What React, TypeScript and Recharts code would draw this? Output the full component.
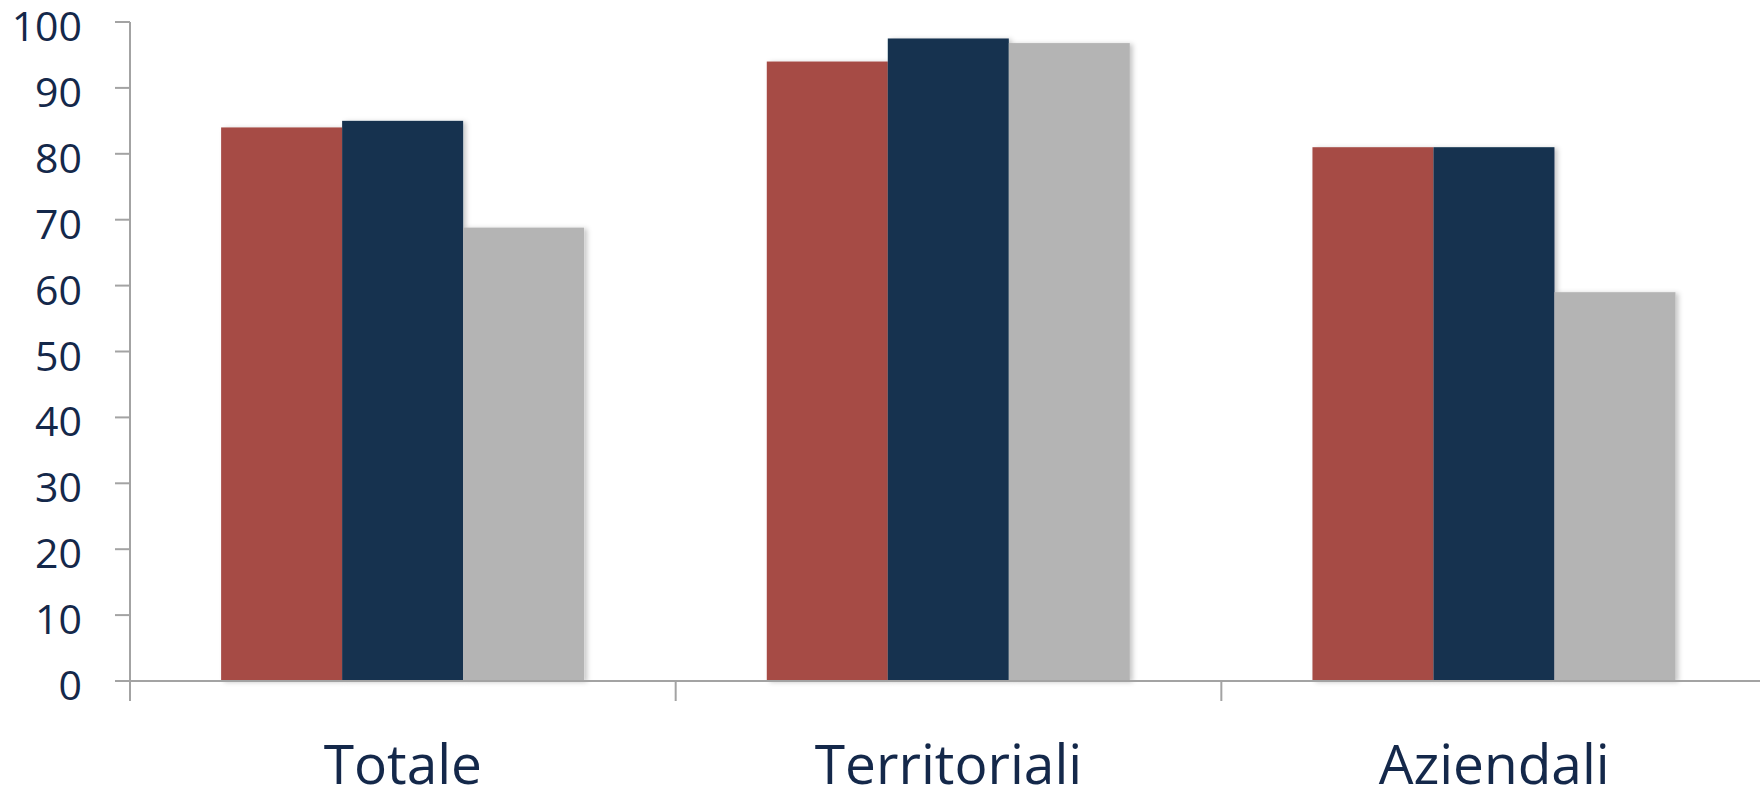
import { Bar, BarChart, XAxis, YAxis } from 'recharts'

const categories = ['Totale', 'Territoriali', 'Aziendali']
const serieA = [84, 94, 81]
const serieB = [85, 97.5, 81]
const serieC = [68.8, 96.8, 59]
const yTicks = [0, 10, 20, 30, 40, 50, 60, 70, 80, 90, 100]

const data = categories.map((name, i) => ({ name, a: serieA[i], b: serieB[i], c: serieC[i] }))

const TEXT = '#14284a'
const AXIS = '#a3a3a3'
const FONT = '"Open Sans", sans-serif'

const ShadowBar = (props: any) => {
  const { x, y, width, height, fill } = props
  if (!height || height <= 0) return null
  return (
    <g>
      <defs>
        <filter id="barShadow" x="-10%" y="-10%" width="130%" height="120%">
          <feDropShadow dx="3" dy="1" stdDeviation="2.5" floodColor="#000" floodOpacity="0.22" />
        </filter>
      </defs>
      <rect x={x} y={y} width={width} height={height} fill={fill} filter="url(#barShadow)" />
    </g>
  )
}

const YTick = ({ x, y, payload }: any) => (
  <text x={x} y={y} dy={19} textAnchor="end" fill={TEXT} fontSize={41} fontFamily={FONT}>
    {payload.value}
  </text>
)

// category label plus the tick mark on the left edge of each group
const XTick = ({ x, y, payload }: any) => {
  const half = payload.offset || 0
  return (
    <g>
      {half > 0 && (
        <line x1={x - half} x2={x - half} y1={y} y2={y + 20} stroke={AXIS} strokeWidth={2} />
      )}
      <text x={x} y={y} dy={103} textAnchor="middle" fill={TEXT} fontSize={55} fontFamily={FONT}>
        {payload.value}
      </text>
    </g>
  )
}

export default function App() {
  return (
    <div style={{ position: 'absolute', left: 0, top: 0, background: '#fff' }}>
      <BarChart
        width={1760}
        height={792}
        data={data}
        margin={{ top: 22, right: -7, bottom: 0, left: 0 }}
        barCategoryGap="16.7%"
        barGap={0}
      >
        <XAxis
          dataKey="name"
          height={111}
          tickLine={false}
          tickSize={0}
          tickMargin={0}
          axisLine={{ stroke: AXIS, strokeWidth: 2 }}
          tick={<XTick />}
          interval={0}
        />
        <YAxis
          width={130}
          domain={[0, 100]}
          ticks={yTicks}
          interval={0}
          tickSize={15}
          tickMargin={33}
          axisLine={{ stroke: AXIS, strokeWidth: 2 }}
          tickLine={{ stroke: AXIS, strokeWidth: 2 }}
          tick={<YTick />}
        />
        <Bar dataKey="a" fill="#a64b45" shape={<ShadowBar />} isAnimationActive={false} />
        <Bar dataKey="b" fill="#15304f" shape={<ShadowBar />} isAnimationActive={false} />
        <Bar dataKey="c" fill="#b4b4b4" shape={<ShadowBar />} isAnimationActive={false} />
      </BarChart>
    </div>
  )
}
